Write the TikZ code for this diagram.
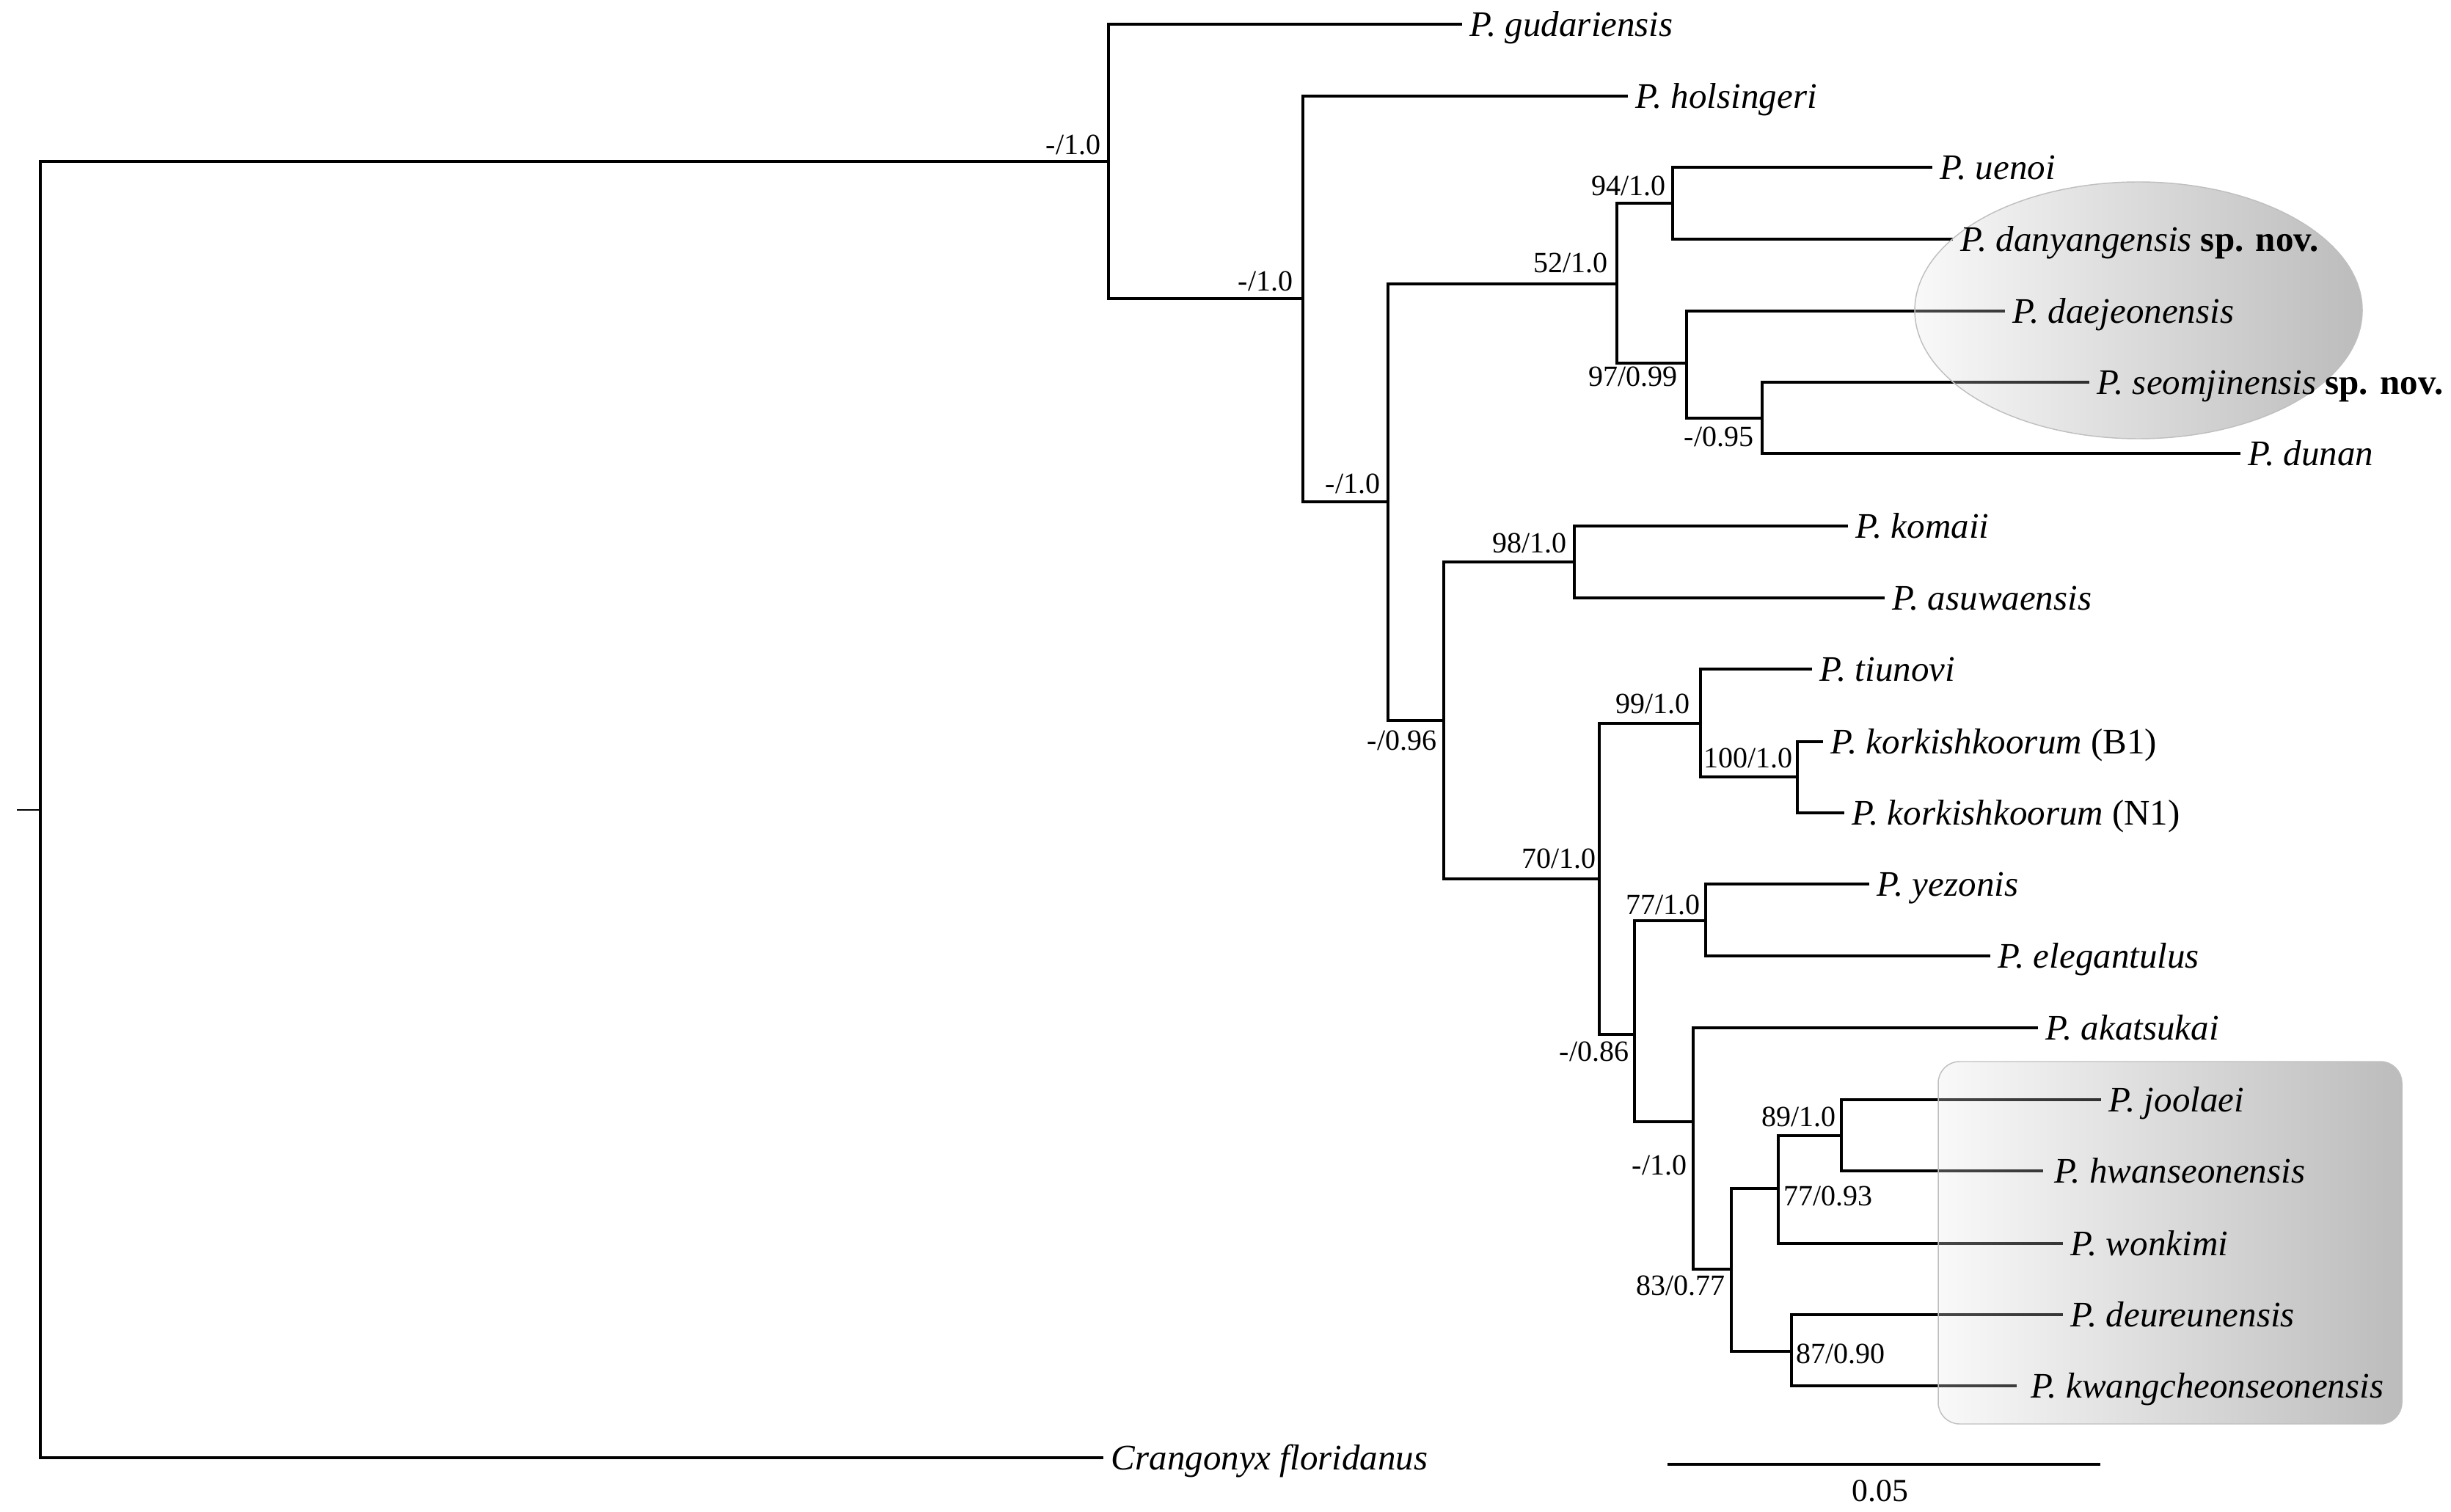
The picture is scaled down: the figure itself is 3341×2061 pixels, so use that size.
\documentclass[tikz,border=0pt]{standalone}
\usepackage{fontspec}
\setmainfont{Liberation Serif}
\pgfdeclarelayer{edges}
\pgfdeclarelayer{shapes}
\pgfsetlayers{edges,shapes,main}
\begin{document}
\begin{tikzpicture}[x=0.24pt,y=-0.24pt,
  br/.style={line width=1.1pt, line join=miter},
  sp/.style={font=\fontsize{11.76}{14}\selectfont\itshape, anchor=west, inner xsep=2.4pt, inner ysep=0pt, text height=7.8pt, text depth=0pt},
  supp/.style={font=\fontsize{9.6}{11}\selectfont, inner sep=0pt, text height=6.5pt, text depth=0pt},
  shadebox/.style={left color=black!8, right color=black!87, opacity=0.3},
  shadeedge/.style={draw=gray!50, line width=0.35pt}
]
\useasboundingbox (0,0) rectangle (3341,2061);

% internal nodes
\coordinate (stub) at (23,1104);
\coordinate (R) at (55,1104);
\coordinate (A) at (1511,220);
\coordinate (B) at (1776,407);
\coordinate (C) at (1892,684);
\coordinate (D52) at (2204,387);
\coordinate (D94) at (2280,277);
\coordinate (D97) at (2299,495);
\coordinate (D95) at (2402,570);
\coordinate (E96) at (1968,982);
\coordinate (F98) at (2146,766);
\coordinate (G70) at (2180,1198);
\coordinate (H99) at (2318,986);
\coordinate (I100) at (2450,1059);
\coordinate (J86) at (2228,1410);
\coordinate (K77) at (2325,1255);
\coordinate (L10) at (2308,1529);
\coordinate (M83) at (2360,1730);
\coordinate (N93) at (2424,1620);
\coordinate (O89) at (2510,1548);
\coordinate (P87) at (2442,1842);
\coordinate (sb1) at (2273,1996);
\coordinate (sb2) at (2863,1996);

% leaves
\node[sp] (gud) at (1993,33) {P. gudariensis};
\node[sp] (hols) at (2219,131) {P. holsingeri};
\node[sp] (uenoi) at (2634,228) {P. uenoi};
\node[sp] (dany) at (2662,326) {P. danyangensis \textnormal{\bfseries sp. nov.}};
\node[sp] (daej) at (2733,424) {P. daejeonensis};
\node[sp] (seomj) at (2848,521) {P. seomjinensis \textnormal{\bfseries sp. nov.}};
\node[sp] (dunan) at (3054,618) {P. dunan};
\node[sp] (komaii) at (2519,717) {P. komaii};
\node[sp] (asuw) at (2569,815) {P. asuwaensis};
\node[sp] (tiun) at (2470,912) {P. tiunovi};
\node[sp] (korkB) at (2485,1011) {P. korkishkoorum \textnormal{(B1)}};
\node[sp] (korkN) at (2514,1108) {P. korkishkoorum \textnormal{(N1)}};
\node[sp] (yez) at (2548,1205) {P. yezonis};
\node[sp] (eleg) at (2713,1303) {P. elegantulus};
\node[sp] (akat) at (2778,1401) {P. akatsukai};
\node[sp] (jool) at (2864,1499) {P. joolaei};
\node[sp, inner xsep=3.4pt] (hwan) at (2785,1596) {P. hwanseonensis};
\node[sp] (wonk) at (2812,1695) {P. wonkimi};
\node[sp] (deur) at (2812,1792) {P. deureunensis};
\node[sp, inner xsep=4.4pt] (kwang) at (2749,1889) {P. kwangcheonseonensis};
\node[sp] (crang) at (1504,1987) {Crangonyx floridanus};

% support values
\node[supp] (sA) at (1463,197) {-/1.0};
\node[supp] (sB) at (1725,383) {-/1.0};
\node[supp] (sC) at (1844,659) {-/1.0};
\node[supp] (s52) at (2141,358) {52/1.0};
\node[supp] (s94) at (2220,253) {94/1.0};
\node[supp] (s97) at (2226,513) {97/0.99};
\node[supp] (s95) at (2343,595) {-/0.95};
\node[supp] (s98) at (2085,740) {98/1.0};
\node[supp] (s96) at (1911,1009) {-/0.96};
\node[supp] (s99) at (2253,959) {99/1.0};
\node[supp] (s100) at (2383,1033) {100/1.0};
\node[supp] (s70) at (2125,1170) {70/1.0};
\node[supp] (s77) at (2267,1233) {77/1.0};
\node[supp] (s86) at (2173,1433) {-/0.86};
\node[supp] (sL) at (2262,1588) {-/1.0};
\node[supp] (s83) at (2291,1752) {83/0.77};
\node[supp] (s93) at (2492,1630) {77/0.93};
\node[supp] (s89) at (2452,1522) {89/1.0};
\node[supp] (s87) at (2509,1845) {87/0.90};
\node[font=\fontsize{10.5}{12}\selectfont, inner sep=0pt, text height=7pt, text depth=0pt] (sbl) at (2563,2032) {0.05};

\begin{pgfonlayer}{edges}
\draw[line width=0.5pt] (stub) -- (R);
\draw[br] (R) |- (A);
\draw[br] (R) |- (crang.west);
\draw[br] (A) |- (gud.west);
\draw[br] (A) |- (B);
\draw[br] (B) |- (hols.west);
\draw[br] (B) |- (C);
\draw[br] (C) |- (D52);
\draw[br] (D52) |- (D94);
\draw[br] (D94) |- (uenoi.west);
\draw[br] (D94) |- (dany.west);
\draw[br] (D52) |- (D97);
\draw[br] (D97) |- (daej.west);
\draw[br] (D97) |- (D95);
\draw[br] (D95) |- (seomj.west);
\draw[br] (D95) |- (dunan.west);
\draw[br] (C) |- (E96);
\draw[br] (E96) |- (F98);
\draw[br] (F98) |- (komaii.west);
\draw[br] (F98) |- (asuw.west);
\draw[br] (E96) |- (G70);
\draw[br] (G70) |- (H99);
\draw[br] (H99) |- (tiun.west);
\draw[br] (H99) |- (I100);
\draw[br] (I100) |- (korkB.west);
\draw[br] (I100) |- (korkN.west);
\draw[br] (G70) |- (J86);
\draw[br] (J86) |- (K77);
\draw[br] (K77) |- (yez.west);
\draw[br] (K77) |- (eleg.west);
\draw[br] (J86) |- (L10);
\draw[br] (L10) |- (akat.west);
\draw[br] (L10) |- (M83);
\draw[br] (M83) |- (N93);
\draw[br] (N93) |- (O89);
\draw[br] (O89) |- (jool.west);
\draw[br] (O89) |- (hwan.west);
\draw[br] (N93) |- (wonk.west);
\draw[br] (M83) |- (P87);
\draw[br] (P87) |- (deur.west);
\draw[br] (P87) |- (kwang.west);
\draw[br] (sb1) -- (sb2);
\end{pgfonlayer}

\begin{pgfonlayer}{shapes}
\shade[shadebox] (2915,423) ellipse [x radius=305, y radius=175];
\draw[shadeedge] (2915,423) ellipse [x radius=305, y radius=175];
\shade[shadebox, rounded corners=7pt] (2642,1447) rectangle (3274,1941);
\draw[shadeedge, rounded corners=7pt] (2642,1447) rectangle (3274,1941);
\end{pgfonlayer}
\end{tikzpicture}
\end{document}
